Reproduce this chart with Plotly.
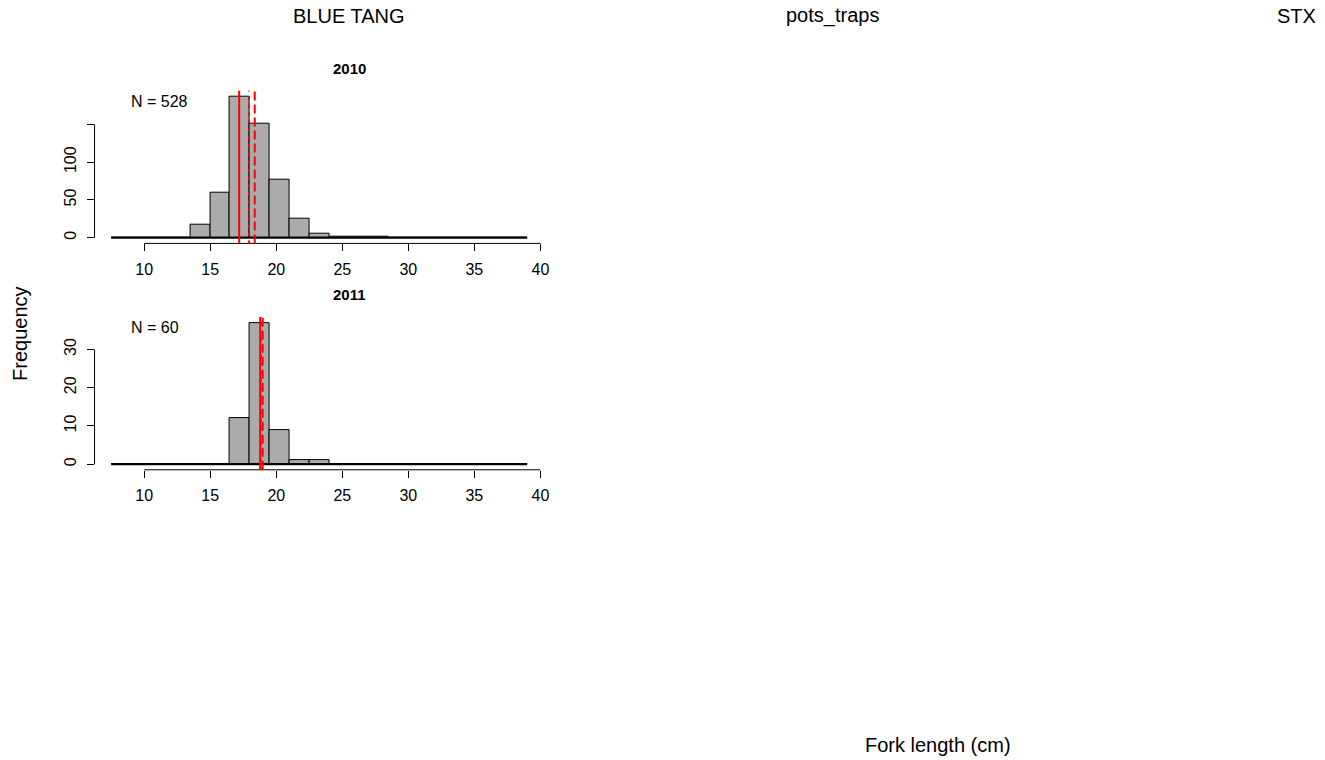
import plotly.graph_objects as go

# ---------------- data ----------------
bin_start = 7.5
bin_width = 1.5
counts_2010 = [0, 0, 0, 0, 17, 60, 187, 151, 77, 25, 5, 2, 2, 2, 0, 0, 0, 0, 0, 0, 0]
counts_2011 = [0, 0, 0, 0, 0, 0, 12, 37, 9, 1, 1, 0, 0, 0, 0, 0, 0, 0, 0, 0, 0]
n_2010 = 528
n_2011 = 60
# vertical reference lines (solid, dotted, dashed)
vlines_2010 = [17.19, 17.94, 18.37]
vlines_2011 = [18.78, 18.82, 18.97]
x_tickvals = [10, 15, 20, 25, 30, 35, 40]
x_ticktext = ["10", "15", "20", "25", "30", "35", "40"]
y_tickvals_2010 = [0, 50, 100, 150]
y_ticktext_2010 = ["0", "50", "100", ""]
y_tickvals_2011 = [0, 10, 20, 30]
y_ticktext_2011 = ["0", "10", "20", "30"]
years = ["2010", "2011"]
species = "BLUE TANG"
gear = "pots_traps"
region = "STX"

# ---------------- layout geometry (pixels) ----------------
W, H = 1325, 760
FONT = "Liberation Sans, Arial, sans-serif"
panels = [
    dict(year=years[0], counts=counts_2010, n=n_2010, vl=vlines_2010,
         ytv=y_tickvals_2010, ytt=y_ticktext_2010, top=90.7, bottom=243.4),
    dict(year=years[1], counts=counts_2011, n=n_2011, vl=vlines_2011,
         ytv=y_tickvals_2011, ytt=y_ticktext_2011, top=317.1, bottom=469.8),
]
left_px, right_px = 95.0, 546.3

fig = go.Figure()
shapes = []
annotations = []
line_styles = [dict(dash="solid"), dict(dash="3px,5px"), dict(dash="9px,4px")]

for i, p in enumerate(panels):
    k = "" if i == 0 else str(i + 1)
    xa, ya = "x" + k, "y" + k
    nb = len(p["counts"])
    edges = [bin_start + j * bin_width for j in range(nb + 1)]
    centers = [(edges[j] + edges[j + 1]) / 2 for j in range(nb)]
    ymax = max(p["counts"])
    xr = [edges[0] - 0.04 * (edges[-1] - edges[0]), edges[-1] + 0.04 * (edges[-1] - edges[0])]
    yr = [-0.04 * ymax, ymax * 1.04]

    fig.add_trace(go.Bar(
        x=centers, y=p["counts"], width=bin_width, xaxis=xa, yaxis=ya,
        marker=dict(color="#ABABAB", line=dict(color="black", width=1)),
        showlegend=False, hoverinfo="x+y"))
    # baseline formed by empty bins
    fig.add_trace(go.Scatter(
        x=[edges[0], edges[-1]], y=[0, 0], mode="lines", xaxis=xa, yaxis=ya,
        line=dict(color="black", width=2), showlegend=False, hoverinfo="skip"))

    dom_x = [left_px / W, right_px / W]
    dom_y = [1 - p["bottom"] / H, 1 - p["top"] / H]
    axis_font = dict(family=FONT, size=16, color="black")
    fig.layout["xaxis" + k] = dict(
        domain=dom_x, range=xr, anchor=ya, showgrid=False, zeroline=False,
        showline=False, ticks="outside", ticklen=7, tickcolor="black", tickwidth=1,
        tickvals=x_tickvals, ticktext=x_ticktext, tickfont=axis_font,
        ticklabelstandoff=4)
    fig.layout["yaxis" + k] = dict(
        domain=dom_y, range=yr, anchor=xa, showgrid=False, zeroline=False,
        showline=False, ticks="outside", ticklen=7, tickcolor="black", tickwidth=1,
        tickvals=p["ytv"], ticktext=p["ytt"], tickfont=axis_font, tickangle=-90,
        ticklabelstandoff=4)

    # R-style axis lines spanning first to last tick
    shapes.append(dict(type="line", xref=xa, yref=ya + " domain",
                       x0=x_tickvals[0], x1=x_tickvals[-1], y0=0, y1=0,
                       line=dict(color="black", width=1)))
    shapes.append(dict(type="line", xref=xa + " domain", yref=ya,
                       x0=0, x1=0, y0=p["ytv"][0], y1=p["ytv"][-1],
                       line=dict(color="black", width=1)))
    # red reference lines
    for v, st in zip(p["vl"], line_styles):
        shapes.append(dict(type="line", xref=xa, yref=ya + " domain",
                           x0=v, x1=v, y0=0, y1=1, layer="above",
                           line=dict(color="#FF0000", width=2, dash=st["dash"])))

    # panel title and N label
    annotations.append(dict(text="<b>" + p["year"] + "</b>", xref="paper", yref="paper",
                            x=351.5 / W, y=1 - (p["top"] - 22.5) / H,
                            xanchor="center", yanchor="middle", showarrow=False,
                            font=dict(family=FONT, size=15, color="black")))
    annotations.append(dict(text="N = " + str(p["n"]), xref="paper", yref="paper",
                            x=129.5 / W, y=1 - (p["top"] + 10.3) / H,
                            xanchor="left", yanchor="middle", showarrow=False,
                            font=dict(family=FONT, size=16, color="black")))

outer_font = dict(family=FONT, size=20, color="black")
annotations += [
    dict(text=species, x=351.0 / W, y=1 - 16 / H, xanchor="center"),
    dict(text=gear, x=836.5 / W, y=1 - 16 / H, xanchor="center"),
    dict(text=region, x=1324 / W, y=1 - 16 / H, xanchor="right"),
    dict(text="Fork length (cm)", x=942.0 / W, y=1 - 745 / H, xanchor="center"),
    dict(text="Frequency", x=20 / W, y=1 - 333 / H, xanchor="center", textangle=-90),
]
for a in annotations[-5:]:
    a.update(xref="paper", yref="paper", yanchor="middle", showarrow=False, font=outer_font)

fig.update_layout(
    width=W, height=H, margin=dict(l=0, r=0, t=0, b=0),
    paper_bgcolor="white", plot_bgcolor="white",
    shapes=shapes, annotations=annotations, bargap=0,
    font=dict(family=FONT, color="black"),
)

fig.write_html("out.html", config={"displayModeBar": False},
               post_script="document.body.style.margin='0';document.body.style.overflow='hidden';")
